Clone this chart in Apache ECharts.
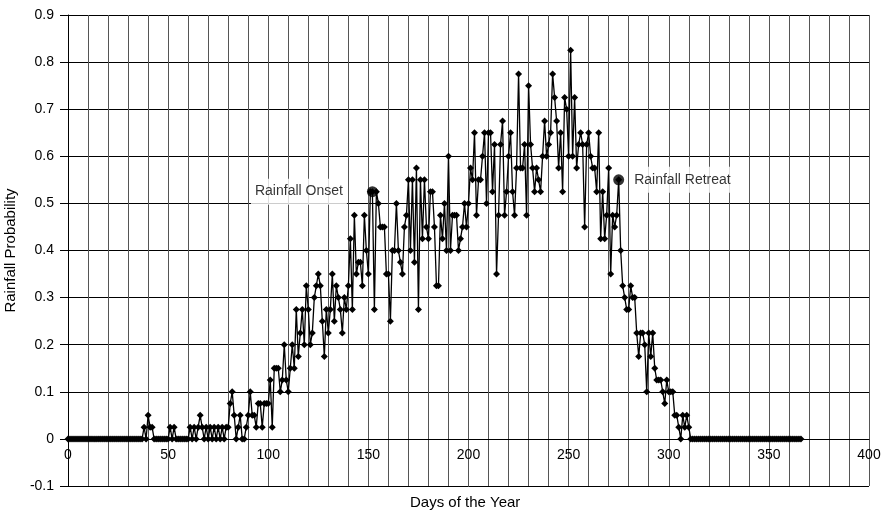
<!DOCTYPE html>
<html>
<head>
<meta charset="utf-8">
<title>Rainfall Probability</title>
<script src="https://cdn.jsdelivr.net/npm/echarts@6/dist/echarts.min.js"></script>
<style>
  html, body { margin: 0; padding: 0; background: #fff; }
  #chart { width: 885px; height: 512px; }
</style>
</head>
<body>
<div id="chart"></div>
<script>
// Daily rainfall probability, days 0..366 (first value is day 0, then ten days per row)
const probability = [
  0,
  0, 0, 0, 0, 0, 0, 0, 0, 0, 0,
  0, 0, 0, 0, 0, 0, 0, 0, 0, 0,
  0, 0, 0, 0, 0, 0, 0, 0, 0, 0,
  0, 0, 0, 0, 0, 0, 0, 0.025, 0, 0.05,
  0.025, 0.025, 0, 0, 0, 0, 0, 0, 0, 0,
  0.025, 0, 0.025, 0, 0, 0, 0, 0, 0, 0,
  0.025, 0, 0.025, 0, 0.025, 0.05, 0.025, 0, 0.025, 0,
  0.025, 0, 0.025, 0, 0.025, 0, 0.025, 0, 0.025, 0.025,
  0.075, 0.1, 0.05, 0, 0.025, 0.05, 0, 0, 0.025, 0.05,
  0.1, 0.05, 0.05, 0.025, 0.075, 0.075, 0.025, 0.075, 0.075, 0.075,
  0.125, 0.025, 0.15, 0.15, 0.15, 0.1, 0.125, 0.2, 0.125, 0.1,
  0.15, 0.2, 0.15, 0.275, 0.175, 0.225, 0.275, 0.2, 0.325, 0.275,
  0.2, 0.225, 0.3, 0.325, 0.35, 0.325, 0.25, 0.175, 0.275, 0.225,
  0.275, 0.35, 0.25, 0.325, 0.3, 0.275, 0.225, 0.3, 0.275, 0.325,
  0.425, 0.275, 0.475, 0.35, 0.375, 0.375, 0.325, 0.475, 0.4, 0.35,
  0.525, 0.525, 0.275, 0.525, 0.5, 0.45, 0.45, 0.45, 0.35, 0.35,
  0.25, 0.4, 0.4, 0.5, 0.4, 0.375, 0.35, 0.45, 0.475, 0.55,
  0.4, 0.55, 0.375, 0.575, 0.275, 0.55, 0.425, 0.55, 0.45, 0.425,
  0.525, 0.525, 0.45, 0.325, 0.325, 0.475, 0.425, 0.5, 0.4, 0.6,
  0.4, 0.475, 0.475, 0.475, 0.4, 0.425, 0.45, 0.5, 0.45, 0.5,
  0.575, 0.55, 0.65, 0.475, 0.55, 0.55, 0.6, 0.65, 0.5, 0.65,
  0.65, 0.525, 0.625, 0.35, 0.475, 0.625, 0.675, 0.475, 0.525, 0.6,
  0.65, 0.525, 0.475, 0.575, 0.775, 0.575, 0.575, 0.625, 0.475, 0.75,
  0.625, 0.575, 0.525, 0.575, 0.55, 0.525, 0.6, 0.675, 0.6, 0.625,
  0.65, 0.775, 0.725, 0.675, 0.575, 0.65, 0.525, 0.725, 0.7, 0.6,
  0.825, 0.6, 0.725, 0.575, 0.625, 0.65, 0.625, 0.45, 0.625, 0.65,
  0.6, 0.575, 0.575, 0.525, 0.65, 0.425, 0.525, 0.425, 0.475, 0.575,
  0.35, 0.475, 0.45, 0.475, 0.55, 0.4, 0.325, 0.3, 0.275, 0.275,
  0.325, 0.3, 0.3, 0.225, 0.175, 0.225, 0.225, 0.2, 0.1, 0.225,
  0.175, 0.225, 0.15, 0.125, 0.125, 0.125, 0.1, 0.075, 0.125, 0.1,
  0.1, 0.1, 0.05, 0.05, 0.025, 0, 0.05, 0.025, 0.05, 0.025,
  0, 0, 0, 0, 0, 0, 0, 0, 0, 0,
  0, 0, 0, 0, 0, 0, 0, 0, 0, 0,
  0, 0, 0, 0, 0, 0, 0, 0, 0, 0,
  0, 0, 0, 0, 0, 0, 0, 0, 0, 0,
  0, 0, 0, 0, 0, 0, 0, 0, 0, 0,
  0, 0, 0, 0, 0, 0
];
const firstDay = 0;

// Season markers: [day, probability]
const onsetPoint = [152, 0.525];
const retreatPoint = [275, 0.55];

// Axis ranges and label steps
const xRange = [0, 400];
const xGridStep = 10;
const xLabelStep = 50;
const yRange = [-0.1, 0.9];
const yStep = 0.1;

const FONT = '"Liberation Sans", Arial, Helvetica, sans-serif';

const GRID = { left: 68, right: 16, top: 15, bottom: 26 };
const plotHeight = 512 - GRID.top - GRID.bottom;
// Lift the day axis from the bottom edge up to the zero line
const zeroLift = plotHeight * (0 - yRange[0]) / (yRange[1] - yRange[0]);

const dailyPoints = probability.map((p, i) => [firstDay + i, p]);

const chart = echarts.init(document.getElementById('chart'), null, { renderer: 'canvas' });

chart.setOption({
  animation: false,
  backgroundColor: '#fff',
  textStyle: { fontFamily: FONT },
  grid: Object.assign({ containLabel: false, outerBoundsMode: 'none' }, GRID),
  xAxis: {
    type: 'value',
    min: xRange[0],
    max: xRange[1],
    interval: xGridStep,
    offset: -zeroLift,
    axisLine: { show: true, onZero: false, lineStyle: { color: '#000', width: 1 } },
    axisTick: { show: false },
    axisLabel: {
      color: '#000',
      fontSize: 14,
      fontFamily: FONT,
      margin: 9,
      showMinLabel: true,
      showMaxLabel: true,
      formatter: v => (v % xLabelStep === 0 ? String(v) : '')
    },
    splitLine: { show: true, lineStyle: { color: '#555', width: 1 } }
  },
  yAxis: {
    type: 'value',
    min: yRange[0],
    max: yRange[1],
    interval: yStep,
    name: 'Rainfall Probability',
    nameLocation: 'middle',
    nameGap: 50,
    nameTextStyle: { color: '#000', fontSize: 15, fontFamily: FONT },
    axisLine: { show: true, onZero: false, lineStyle: { color: '#000', width: 1 } },
    axisTick: { show: true, inside: false, length: 8, lineStyle: { color: '#000' } },
    axisLabel: {
      color: '#000',
      fontSize: 14,
      fontFamily: FONT,
      margin: 14,
      formatter: v => String(Math.round(v * 10) / 10)
    },
    splitLine: { show: true, lineStyle: { color: '#000', width: 1 } }
  },
  graphic: [
    {
      type: 'text',
      left: 410,
      top: 495,
      style: {
        text: 'Days of the Year',
        fill: '#000',
        font: '15px ' + FONT
      }
    }
  ],
  series: [
    {
      name: 'Rainfall Probability',
      type: 'line',
      data: dailyPoints,
      showAllSymbol: true,
      symbol: 'diamond',
      symbolSize: 7,
      itemStyle: { color: '#000' },
      lineStyle: { color: '#000', width: 1.3 },
      z: 3
    },
    {
      name: 'Rainfall Onset',
      type: 'scatter',
      data: [onsetPoint],
      symbol: 'circle',
      symbolSize: 11,
      itemStyle: { color: '#000' },
      label: {
        show: true,
        position: 'left',
        distance: 20,
        formatter: 'Rainfall Onset',
        color: '#000',
        fontSize: 14,
        fontFamily: FONT,
        backgroundColor: '#fff',
        padding: [6, 4]
      },
      z: 4
    },
    {
      name: 'Rainfall Retreat',
      type: 'scatter',
      data: [retreatPoint],
      symbol: 'circle',
      symbolSize: 11,
      itemStyle: { color: '#000' },
      label: {
        show: true,
        position: 'right',
        distance: 6,
        formatter: 'Rainfall Retreat',
        color: '#000',
        fontSize: 14,
        fontFamily: FONT,
        backgroundColor: '#fff',
        padding: [6, 4]
      },
      z: 4
    }
  ]
});
</script>
</body>
</html>
